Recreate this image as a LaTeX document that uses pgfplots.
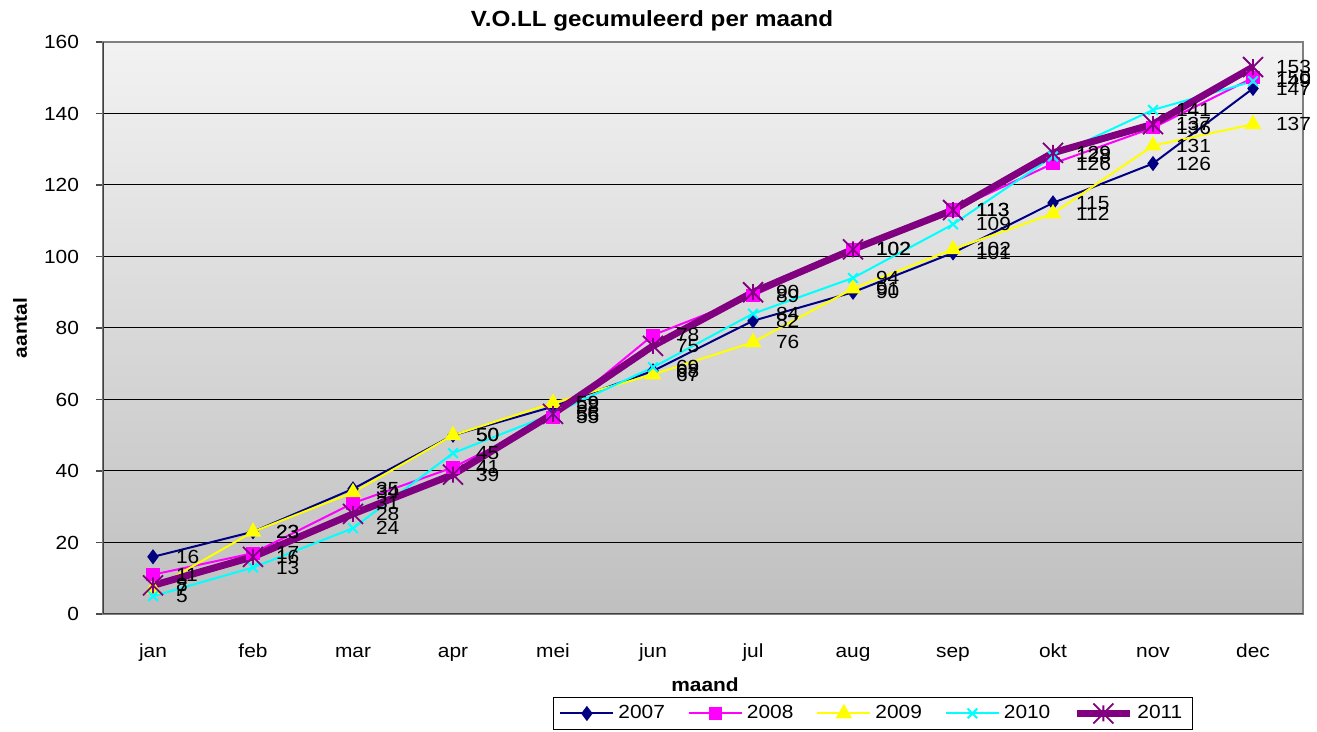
\documentclass[border=0pt]{standalone}
\usepackage{fontspec}
\setmainfont{Liberation Sans}[FakeStretch=1.1]
\usepackage{pgfplots}
\usepackage{pgfplotstable}
\pgfplotsset{compat=1.18}

\definecolor{c07}{HTML}{000080}
\definecolor{c08}{HTML}{FF00FF}
\definecolor{c09}{HTML}{FFFF00}
\definecolor{c10}{HTML}{00FFFF}
\definecolor{c11}{HTML}{800080}

% cumulative counts per month, one column per year
\pgfplotstableread{
x  a   b   c   d   e
0  16  11  7   5   8
1  23  17  23  13  16
2  35  31  34  24  28
3  50  41  50  45  39
4  58  55  59  56  56
5  68  78  67  69  75
6  82  89  76  84  90
7  90  102 91  94  102
8  101 113 102 109 113
9  115 126 112 128 129
10 126 136 131 141 137
11 147 150 137 149 153
}\voll

% excel-like star: x plus vertical bar
\pgfdeclareplotmark{xstar}{%
  \pgfpathmoveto{\pgfqpoint{-\pgfplotmarksize}{-\pgfplotmarksize}}%
  \pgfpathlineto{\pgfqpoint{\pgfplotmarksize}{\pgfplotmarksize}}%
  \pgfpathmoveto{\pgfqpoint{-\pgfplotmarksize}{\pgfplotmarksize}}%
  \pgfpathlineto{\pgfqpoint{\pgfplotmarksize}{-\pgfplotmarksize}}%
  \pgfpathmoveto{\pgfqpoint{0pt}{-0.8\pgfplotmarksize}}%
  \pgfpathlineto{\pgfqpoint{0pt}{0.8\pgfplotmarksize}}%
  \pgfusepathqstroke}

\begin{document}
\begin{tikzpicture}
\begin{axis}[
    scale only axis,
    width=600pt, height=286pt,
    xmin=-0.5, xmax=11.5,
    ymin=0, ymax=160,
    /pgf/number format/assume math mode=true,
    xtick={0,...,11},
    xticklabels={jan,feb,mar,apr,mei,jun,jul,aug,sep,okt,nov,dec},
    x tick label style={text height=7pt, text depth=2pt, yshift=-7.5pt},
    extra x ticks={-0.5,0.5,...,11.5},
    extra x tick labels={},
    extra x tick style={major tick length=3.5pt, grid=none},
    ytick={0,20,...,160},
    y tick label style={xshift=-5pt},
    tick align=outside,
    xtick pos=bottom, ytick pos=left,
    major x tick style={draw=none},
    tick style={draw=black!70, line width=0.8pt},
    major tick length=3.5pt,
    ymajorgrids,
    grid style={black, line width=0.5pt},
    axis line style={draw=black!50, line width=1pt},
    axis background/.style={top color=black!5, bottom color=black!25},
    ticklabel style={font=\fontsize{9.5}{11}\selectfont},
    title={V.O.LL gecumuleerd per maand},
    title style={at={(0.4575,1)}, anchor=center, yshift=4.5pt,
        font=\bfseries\fontsize{11}{13}\selectfont},
    xlabel={maand},
    xlabel style={at={(axis description cs:0.5017,-0.124)}, anchor=center,
        font=\bfseries\fontsize{9.5}{11}\selectfont},
    ylabel={aantal},
    ylabel style={at={(axis description cs:-0.0692,0.5)}, anchor=center,
        font=\bfseries\fontsize{9.5}{11}\selectfont},
    legend columns=5,
    legend style={at={(0.375,-0.145)}, anchor=north west, draw=black,
        fill=white, font=\fontsize{9.5}{11}\selectfont,
        /tikz/every even column/.append style={column sep=9.5pt}},
    legend image code/.code={%
        \draw[mark repeat=2,mark phase=2,#1]
        plot coordinates {(0pt,0pt) (13.25pt,0pt) (26.5pt,0pt)};},
    every node near coord/.append style={anchor=west, xshift=8pt,
        font=\fontsize{9.5}{11}\selectfont, text=black},
]
\addplot[c07, line width=1pt, mark=diamond*, mark size=3pt,
    mark options={solid}] table[x=x, y=a] {\voll};
\addlegendentry{2007}
\addplot[c08, line width=1pt, mark=square*, mark size=2.8pt] table[x=x, y=b] {\voll};
\addlegendentry{2008}
\addplot[c09, line width=1pt, mark=triangle*, mark size=3.8pt] table[x=x, y=c] {\voll};
\addlegendentry{2009}
\addplot[c10, line width=1pt, mark=x, mark size=3.4pt] table[x=x, y=d] {\voll};
\addlegendentry{2010}
\addplot[c11, line width=3.5pt, mark=xstar, mark size=5pt,
    mark options={line width=0.9pt}] table[x=x, y=e] {\voll};
\addlegendentry{2011}

% data labels on top of all lines
\addplot[draw=none, forget plot, nodes near coords] table[x=x, y=a] {\voll};
\addplot[draw=none, forget plot, nodes near coords] table[x=x, y=b] {\voll};
\addplot[draw=none, forget plot, nodes near coords] table[x=x, y=c] {\voll};
\addplot[draw=none, forget plot, nodes near coords] table[x=x, y=d] {\voll};
\addplot[draw=none, forget plot, nodes near coords] table[x=x, y=e] {\voll};

\draw[black!75, line width=1pt] (rel axis cs:0,0) -- (rel axis cs:0,1);
\draw[black!75, line width=1pt] (rel axis cs:0,0) -- (rel axis cs:1,0);
\end{axis}
\pgfresetboundingbox
\path[use as bounding box] (-51.5pt,-59pt) rectangle (607pt,307pt);
\end{tikzpicture}
\end{document}
